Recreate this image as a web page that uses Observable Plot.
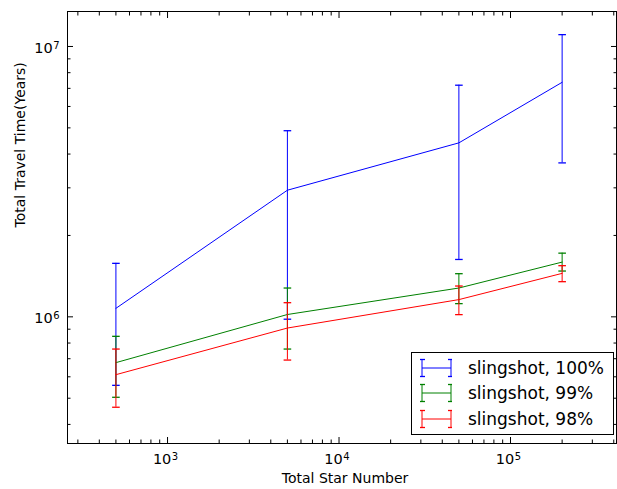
<!DOCTYPE html>
<html><head><meta charset="utf-8">
<script src="https://cdn.jsdelivr.net/npm/d3@7"></script>
<script src="https://cdn.jsdelivr.net/npm/@observablehq/plot@0.6"></script>
<style>
body{margin:0;background:#fff;font-family:"DejaVu Sans",sans-serif;}
#wrap{position:relative;width:617px;height:489px;}
#legend{position:absolute;left:411px;top:352px;width:203px;height:83px;border:1px solid #000;background:#fff;box-sizing:border-box;}
#legend .row{position:absolute;left:0;height:20px;display:flex;align-items:center;font-size:17px;color:#000;white-space:nowrap;}
#legend svg{margin-left:8px;margin-right:16px;}
</style></head><body><div id="wrap"></div>
<script>
// ---- data ----
const starNumbers = [500, 5000, 50000, 200000];
const seriesNames = ["slingshot, 100%", "slingshot, 99%", "slingshot, 98%"];
const seriesColors = ["#0000ff", "#008000", "#ff0000"];
const mean100 = [1.075e6, 2.94e6, 4.40e6, 7.37e6];
const low100  = [0.558e6, 0.98e6, 1.63e6, 3.71e6];
const high100 = [1.577e6, 4.88e6, 7.19e6, 11.06e6];
const mean99 = [0.677e6, 1.02e6, 1.278e6, 1.594e6];
const low99  = [0.504e6, 0.760e6, 1.119e6, 1.477e6];
const high99 = [0.847e6, 1.278e6, 1.444e6, 1.72e6];
const mean98 = [0.611e6, 0.909e6, 1.158e6, 1.448e6];
const low98  = [0.463e6, 0.692e6, 1.019e6, 1.349e6];
const high98 = [0.760e6, 1.128e6, 1.300e6, 1.546e6];
const xMajorTicks = [1e3, 1e4, 1e5];
const yMajorTicks = [1e6, 1e7];
const xLabel = "Total Star Number";
const yLabel = "Total Travel Time(Years)";

const means = [mean100, mean99, mean98];
const lows = [low100, low99, low98];
const highs = [high100, high99, high98];

const xDomain = [261, 415000];
const yDomain = [3.40e5, 1.347e7];

function minorTicks(domain) {
  const out = [];
  for (let e = Math.floor(Math.log10(domain[0])); e <= Math.ceil(Math.log10(domain[1])); e++) {
    for (let m = 2; m <= 9; m++) {
      const v = m * Math.pow(10, e);
      if (v >= domain[0] && v <= domain[1]) out.push(v);
    }
  }
  return out;
}
const xMinorTicks = minorTicks(xDomain);
const yMinorTicks = minorTicks(yDomain);

const fmtPow = d => "10^" + Math.round(Math.log10(d));

const capSymbol = {draw(ctx, size) { const w = Math.sqrt(size / Math.PI); ctx.moveTo(-w, 0); ctx.lineTo(w, 0); }};

const rows = [];
seriesNames.forEach((s, i) => {
  starNumbers.forEach((x, j) => rows.push({series: s, x, y: means[i][j], lo: lows[i][j], hi: highs[i][j]}));
});

const seriesMarks = [];
seriesNames.forEach((s, i) => {
  const d = rows.filter(r => r.series === s);
  const c = seriesColors[i];
  seriesMarks.push(
    Plot.line(d, {x: "x", y: "y", stroke: c, strokeWidth: 1}),
    Plot.ruleX(d, {x: "x", y1: "lo", y2: "hi", stroke: c, strokeWidth: 1}),
    Plot.dot(d, {x: "x", y: "hi", symbol: capSymbol, r: 3.8, fill: "none", stroke: c, strokeWidth: 1.3}),
    Plot.dot(d, {x: "x", y: "lo", symbol: capSymbol, r: 3.8, fill: "none", stroke: c, strokeWidth: 1.3})
  );
});

const noText = () => "";
const chart = Plot.plot({
  width: 617, height: 489,
  marginLeft: 67, marginRight: 1, marginTop: 11, marginBottom: 46,
  style: {fontFamily: "DejaVu Sans, sans-serif", background: "#fff", color: "#000"},
  x: {type: "log", domain: xDomain},
  y: {type: "log", domain: yDomain},
  marks: [
    ...seriesMarks,
    // inward ticks, all four sides
    Plot.axisX(xMajorTicks, {anchor: "bottom", tickSize: -6, tickFormat: noText, label: null, strokeWidth: 1}),
    Plot.axisX(xMinorTicks, {anchor: "bottom", tickSize: -3.5, tickFormat: noText, label: null, strokeWidth: 1}),
    Plot.axisX(xMajorTicks, {anchor: "top", tickSize: -6, tickFormat: noText, label: null, strokeWidth: 1}),
    Plot.axisX(xMinorTicks, {anchor: "top", tickSize: -3.5, tickFormat: noText, label: null, strokeWidth: 1}),
    Plot.axisY(yMajorTicks, {anchor: "left", tickSize: -6, tickFormat: noText, label: null, strokeWidth: 1}),
    Plot.axisY(yMinorTicks, {anchor: "left", tickSize: -3.5, tickFormat: noText, label: null, strokeWidth: 1}),
    Plot.axisY(yMajorTicks, {anchor: "right", tickSize: -6, tickFormat: noText, label: null, strokeWidth: 1}),
    Plot.axisY(yMinorTicks, {anchor: "right", tickSize: -3.5, tickFormat: noText, label: null, strokeWidth: 1}),
    // tick labels
    Plot.axisX(xMajorTicks, {anchor: "bottom", tickSize: 0, tickPadding: 10, dx: -2, tickFormat: fmtPow, label: null, fontSize: 14.5}),
    Plot.axisY(yMajorTicks, {anchor: "left", tickSize: 0, tickPadding: 8, dy: 2, tickFormat: fmtPow, label: null, fontSize: 14.5}),
    Plot.frame({stroke: "#000", strokeWidth: 1}),
    Plot.text([xLabel], {text: d => d, frameAnchor: "bottom", dy: 35, dx: 3, fontSize: 14, lineAnchor: "middle"}),
    Plot.text([yLabel], {text: d => d, frameAnchor: "left", dx: -47, rotate: -90, fontSize: 14, lineAnchor: "middle"})
  ]
});

// turn "10^n" tick labels into 10 with a raised exponent
chart.querySelectorAll("text").forEach(t => {
  const m = /^10\^(-?\d+)$/.exec(t.textContent);
  if (!m) return;
  t.textContent = "10";
  const ns = "http://www.w3.org/2000/svg";
  const sup = document.createElementNS(ns, "tspan");
  sup.setAttribute("dy", "-0.42em");
  sup.setAttribute("dx", "0.5");
  sup.setAttribute("font-size", "10px");
  sup.textContent = m[1];
  t.appendChild(sup);
});

const wrap = document.getElementById("wrap");
wrap.appendChild(chart);

// legend overlay
const legend = document.createElement("div");
legend.id = "legend";
const rowCenters = [14.5, 40, 65.5];
seriesNames.forEach((s, i) => {
  const c = seriesColors[i];
  const row = document.createElement("div");
  row.className = "row";
  row.style.top = (rowCenters[i] - 10) + "px";
  row.innerHTML = `<svg width="32" height="20" viewBox="0 0 32 20">
    <line x1="2" y1="10" x2="31" y2="10" stroke="${c}" stroke-width="1"/>
    <line x1="2" y1="1.5" x2="2" y2="18.5" stroke="${c}" stroke-width="1"/>
    <line x1="31" y1="1.5" x2="31" y2="18.5" stroke="${c}" stroke-width="1"/>
    <line x1="-1" y1="1.5" x2="5" y2="1.5" stroke="${c}" stroke-width="1.3"/>
    <line x1="-1" y1="18.5" x2="5" y2="18.5" stroke="${c}" stroke-width="1.3"/>
    <line x1="28" y1="1.5" x2="34" y2="1.5" stroke="${c}" stroke-width="1.3"/>
    <line x1="28" y1="18.5" x2="34" y2="18.5" stroke="${c}" stroke-width="1.3"/>
  </svg><span>${s}</span>`;
  legend.appendChild(row);
});
wrap.appendChild(legend);
</script>
</body></html>
